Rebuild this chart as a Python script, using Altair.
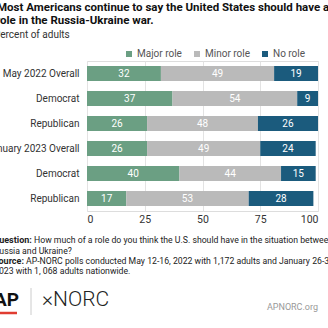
import altair as alt
import pandas as pd

rows = ["May  2022 Overall", "Democrat", "Republican", "January 2023 Overall", "Democrat", "Republican"]
major = [32, 37, 26, 26, 40, 17]
minor = [49, 54, 48, 49, 44, 53]
norole = [19, 9, 26, 24, 15, 28]
series = ["Major role", "Minor role", "No role"]
colors = ["#6b9f83", "#bababa", "#1b5b7d"]
ticks = [0, 25, 50, 75, 100]

title1 = "Most Americans continue to say the United States should have a"
title2 = "role in the Russia-Ukraine war."
subtitle = "Percent of adults"
q_bold = "Question:"
q1 = "How much of a role do you think the U.S. should have in the situation between"
q2 = "Russia and Ukraine?"
s_bold = "Source:"
s1 = "AP-NORC polls conducted May 12-16, 2022 with 1,172 adults and January 26-30,"
s2 = "2023 with 1, 068 adults nationwide."
logo1 = "AP"
logo2 = "×NORC"
site = "APNORC.org"

recs = []
for i, r in enumerate(rows):
    start = 0
    for s, v in zip(series, [major[i], minor[i], norole[i]]):
        recs.append({"row": i, "series": s, "order": series.index(s), "value": v,
                     "start": start, "end": start + v, "mid": start + v / 2})
        start += v
df = pd.DataFrame(recs)

label_expr = "[" + ",".join("'" + r + "'" for r in rows) + "][datum.value]"

FONT = "Roboto"
W, H = 231, 150

x = alt.X("start:Q", scale=alt.Scale(domain=[0, 100], nice=False),
          axis=alt.Axis(values=ticks, title=None, grid=True, gridColor="#e3e3e3", domain=False,
                        ticks=False, labelFontSize=10.5, labelColor="#333", labelPadding=3,
                        labelFont=FONT, orient="bottom"))
y = alt.Y("row:O", scale=alt.Scale(paddingInner=0.4, paddingOuter=0.2),
          axis=alt.Axis(title=None, labelExpr=label_expr, domain=False, ticks=False,
                        labelFontSize=10, labelColor="#333", labelPadding=8, labelFont=FONT))

bars = alt.Chart(df).mark_bar().encode(
    x=x, x2="end:Q", y=y,
    color=alt.Color("series:N", scale=alt.Scale(domain=series, range=colors),
                    legend=alt.Legend(title=None, orient="none", legendX=37, legendY=-12,
                                      direction="horizontal", symbolType="square", symbolSize=36,
                                      labelFontSize=10, labelColor="#555", labelFont=FONT,
                                      labelOffset=3, columnPadding=10, symbolStrokeWidth=0)),
    order="order:Q",
)
txt = alt.Chart(df).mark_text(color="white", fontSize=10, font=FONT).encode(
    x="mid:Q", y=y, text="value:Q")


def note(t, xv, yv, size=10.5, weight="normal", color="#222", align="left", font=FONT):
    return alt.Chart(pd.DataFrame({"t": [t]})).mark_text(
        align=align, baseline="middle", fontSize=size, fontWeight=weight, color=color, font=font
    ).encode(text="t:N", x=alt.value(xv), y=alt.value(yv))


notes = [
    note(title1, -90, -53, 11.5, "bold", "#111"),
    note(title2, -91, -40, 11.5, "bold", "#111"),
    note(subtitle, -93, -26, 10, "normal", "#333"),
    note(q_bold, -94, 179, 9, "bold"),
    note(q1, -53, 179, 8.7),
    note(q2, -93, 190, 8.7),
    note(s_bold, -94, 200, 9, "bold"),
    note(s1, -61, 200, 8.7),
    note(s2, -93, 210, 8.7),
    note(logo1, -93, 239, 19, "bold", "#111"),
    note(logo2, -45, 239, 21, 300, "#222"),
    note(site, 231, 246, 9, "normal", "#999", "right"),
]

red = alt.Chart(pd.DataFrame({"a": [0]})).mark_rule(color="#e03c31", strokeWidth=2.5).encode(
    x=alt.value(-93), x2=alt.value(-70), y=alt.value(252))
sep = alt.Chart(pd.DataFrame({"a": [0]})).mark_rule(color="#cccccc", strokeWidth=1).encode(
    x=alt.value(-56), y=alt.value(227), y2=alt.value(254))

chart = alt.layer(bars, txt, *notes, red, sep).properties(
    width=W, height=H,
    autosize=alt.AutoSizeParams(type="none"),
    padding={"left": 87, "top": 61, "right": 10, "bottom": 117},
).configure_view(stroke=None).configure(background="white")

chart.save("out.html", embed_options={"renderer": "svg", "actions": False})
